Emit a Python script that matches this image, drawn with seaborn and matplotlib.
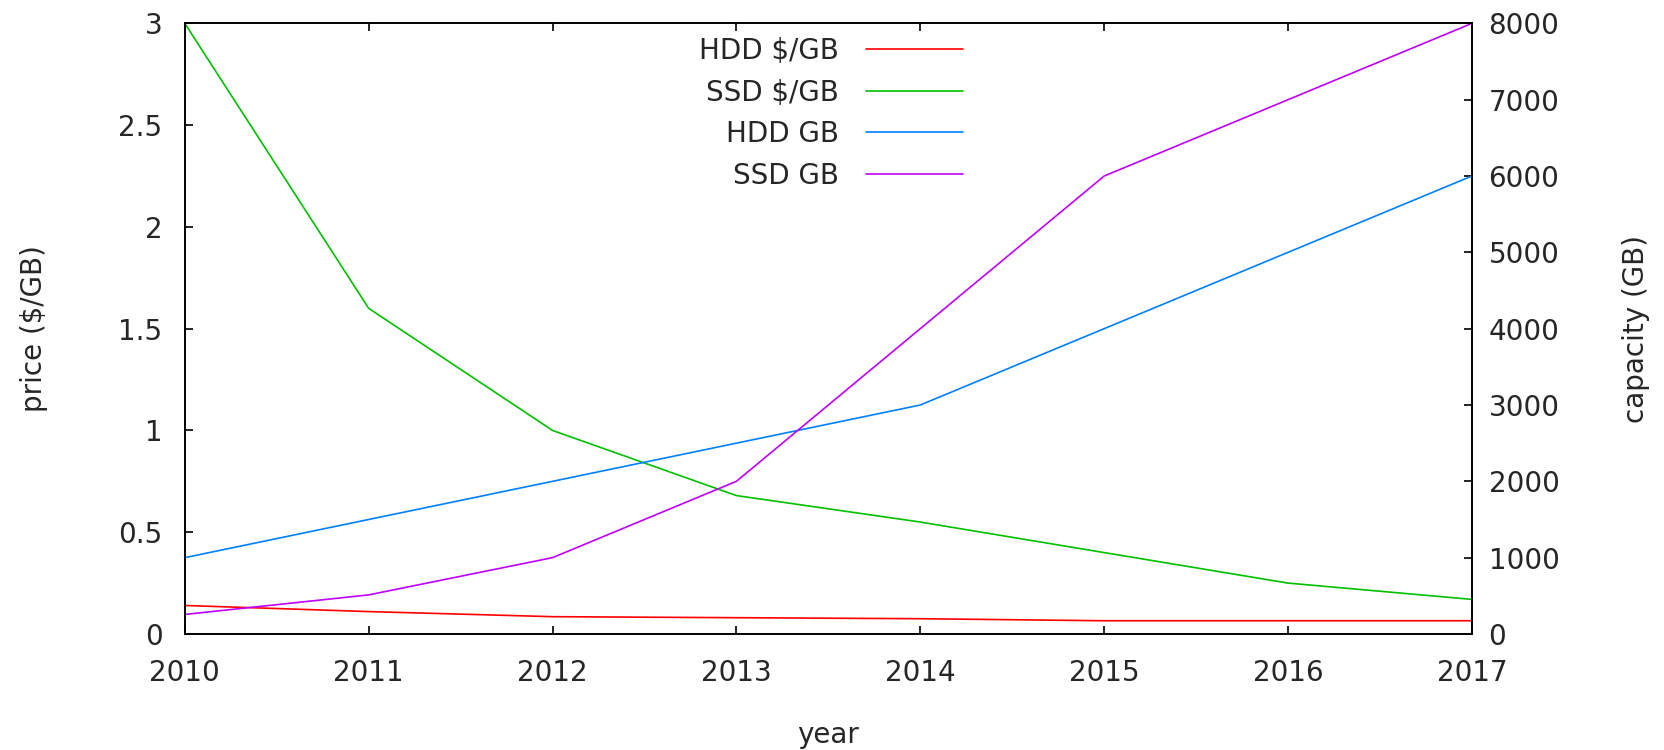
import pandas as pd
import matplotlib
matplotlib.use("Agg")
import matplotlib.pyplot as plt
from matplotlib.ticker import FuncFormatter
import seaborn as sns

# values
years = [2010, 2011, 2012, 2013, 2014, 2015, 2016, 2017]
hdd_price = [0.14, 0.11, 0.085, 0.08, 0.075, 0.065, 0.065, 0.065]
ssd_price = [3.0, 1.6, 1.0, 0.68, 0.55, 0.40, 0.25, 0.17]
hdd_cap = [1000, 1500, 2000, 2500, 3000, 4000, 5000, 6000]
ssd_cap = [256, 512, 1000, 2000, 4000, 6000, 7000, 8000]

price = pd.DataFrame({
    'year': years * 2,
    'value': hdd_price + ssd_price,
    'series': ['HDD $/GB'] * len(years) + ['SSD $/GB'] * len(years),
})
capacity = pd.DataFrame({
    'year': years * 2,
    'value': hdd_cap + ssd_cap,
    'series': ['HDD GB'] * len(years) + ['SSD GB'] * len(years),
})

colors = {'HDD $/GB': '#ff0000', 'SSD $/GB': '#00c000',
          'HDD GB': '#0080ff', 'SSD GB': '#c000ff'}

sns.set_style('white')
plt.rcParams['font.family'] = ['DejaVu Sans']
fs = 20
txt = '#262626'

fig = plt.figure(figsize=(16.65, 7.5), dpi=100)
ax = fig.add_axes([0.111, 0.1547, 0.773, 0.8141])
ax2 = ax.twinx()

sns.lineplot(data=price, x='year', y='value', hue='series', palette=colors,
             linewidth=1.2, legend=False, ax=ax)
sns.lineplot(data=capacity, x='year', y='value', hue='series', palette=colors,
             linewidth=1.2, legend=False, ax=ax2)

ax.set_xlim(2010, 2017)
ax.set_ylim(0, 3)
ax2.set_ylim(0, 8000)
ax.set_xticks(years)
ax.set_yticks([0, 0.5, 1, 1.5, 2, 2.5, 3])
ax2.set_yticks(range(0, 8001, 1000))
ax.yaxis.set_major_formatter(FuncFormatter(lambda v, p: '%g' % v))

for a in (ax, ax2):
    for s in a.spines.values():
        s.set_color('black')
        s.set_linewidth(1.2)

ax.tick_params(axis='x', direction='in', top=True, bottom=True, length=6,
               width=1.2, labelsize=fs, pad=18, colors='black', labelcolor=txt)
ax.tick_params(axis='y', direction='in', left=True, right=False, length=6,
               width=1.2, labelsize=fs, pad=16, colors='black', labelcolor=txt)
ax2.tick_params(axis='y', direction='in', right=True, left=False, length=6,
                width=1.2, labelsize=fs, pad=12, colors='black', labelcolor=txt)

ax.set_xlabel('year', fontsize=fs, color=txt)
ax.set_ylabel('price ($/GB)', fontsize=fs, color=txt)
ax2.set_ylabel('capacity (GB)', fontsize=fs, color=txt)
ax.xaxis.set_label_coords(0.5, -0.142)
ax.yaxis.set_label_coords(-0.106, 0.5)
ax2.yaxis.set_label_coords(1.117, 0.5)

handles = ax.get_lines() + ax2.get_lines()
labels = ['HDD $/GB', 'SSD $/GB', 'HDD GB', 'SSD GB']
leg = ax2.legend(handles, labels, loc='upper right',
                 bbox_to_anchor=(963 / 1665, 1 - 37 / 750),
                 bbox_transform=fig.transFigure, frameon=False,
                 markerfirst=False, fontsize=fs, handlelength=3.5,
                 handletextpad=0.97, labelspacing=0.49, borderpad=0,
                 borderaxespad=0)
for t in leg.get_texts():
    t.set_color(txt)

fig.savefig('out.png', dpi=100)
